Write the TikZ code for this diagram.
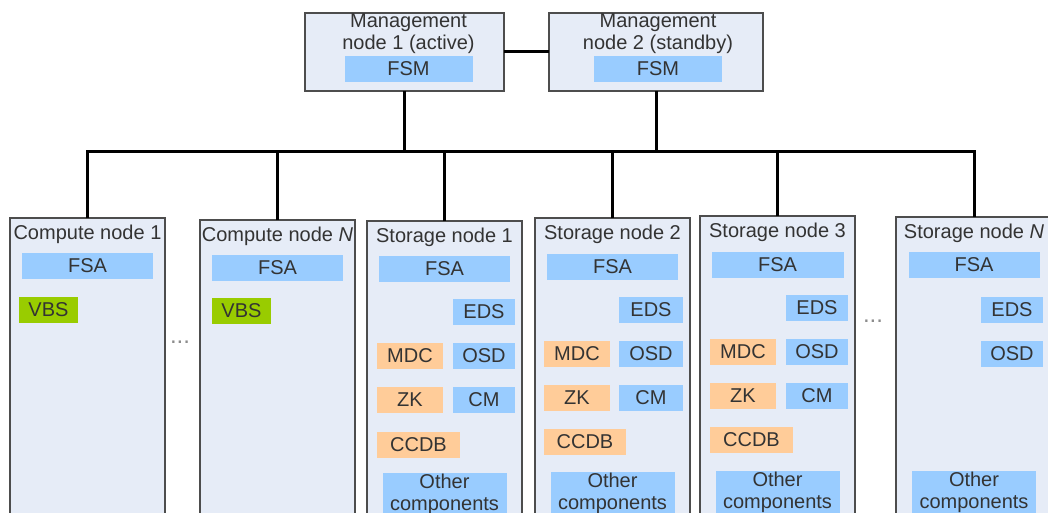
\documentclass[tikz,border=0pt]{standalone}
\usepackage{fontspec}
\setsansfont{Liberation Sans}
\usepackage{tikz}
\usetikzlibrary{positioning}
\usepackage{xcolor}
\definecolor{boxfill}{HTML}{E6ECF7}
\definecolor{boxline}{HTML}{4D4D4D}
\definecolor{fsblue}{HTML}{99CCFF}
\definecolor{fsorange}{HTML}{FFCC99}
\definecolor{fsgreen}{HTML}{99CC00}
\definecolor{ink}{HTML}{333333}
\tikzset{
  base/.style={font=\sffamily\fontsize{20}{22}\selectfont,text=ink,align=center,inner sep=0pt,outer sep=0pt},
  machine/.style={draw=boxline,line width=1.5pt,fill=boxfill,minimum width=155pt,minimum height=320pt,anchor=north west,inner sep=0pt,outer sep=0pt},
  manager/.style={machine,minimum height=78pt},
  heading/.style={base},
  comp/.style={base,minimum height=26pt},
  process/.style={comp,fill=fsblue},
  control/.style={comp,fill=fsorange},
  client/.style={comp,fill=fsgreen},
  link/.style={draw=black,line width=3pt},
  gap/.style={font=\sffamily\fontsize{24}{24}\selectfont,text=black!45,inner sep=0pt}
}
\begin{document}
\begin{tikzpicture}[x=1pt,y=-1pt]
\useasboundingbox (0,0) rectangle (1048,513);
\clip (0,0) rectangle (1048,513);

\node[manager,minimum width=199pt] (mgmt1) at (305,13) {};
\node[manager,minimum width=214pt] (mgmt2) at (549,13) {};
\node[heading] (mgmt1title) at ([xshift=4pt,yshift=-20.5pt]mgmt1.north) {Management\\node 1 (active)};
\node[heading] (mgmt2title) at ([xshift=2pt,yshift=-20.5pt]mgmt2.north) {Management\\node 2 (standby)};
\node[process,minimum width=128pt,below=43pt of mgmt1.north,xshift=4pt] (fsm1) {FSM};
\node[process,minimum width=128pt,below=43pt of mgmt2.north,xshift=2pt] (fsm2) {FSM};

\node[machine] (cnode1) at (10,218) {};
\node[machine] (cnodeN) at (200,220) {};
\node[machine] (snode1) at (367,221) {};
\node[machine] (snode2) at (535,218) {};
\node[machine] (snode3) at (700,216) {};
\node[machine,minimum width=156pt] (snodeN) at (896,217) {};

\node[heading] (c1title) at ([yshift=-16.5pt]cnode1.north) {Compute node 1};
\node[heading] (cNtitle) at ([yshift=-16.5pt]cnodeN.north) {Compute node \textit{N}};
\node[heading] (s1title) at ([yshift=-16.5pt]snode1.north) {Storage node 1};
\node[heading] (s2title) at ([yshift=-16.5pt]snode2.north) {Storage node 2};
\node[heading] (s3title) at ([yshift=-16.5pt]snode3.north) {Storage node 3};
\node[heading] (sNtitle) at ([yshift=-16.5pt]snodeN.north) {Storage node \textit{N}};

% compute nodes
\node[process,minimum width=131pt,below=35pt of cnode1.north] (c1fsa) {FSA};
\node[client,minimum width=59pt,below right=79pt and 9pt of cnode1.north west] (c1vbs) {VBS};
\node[process,minimum width=131pt,below=35pt of cnodeN.north] (cNfsa) {FSA};
\node[client,minimum width=59pt,below right=78pt and 12pt of cnodeN.north west] (cNvbs) {VBS};

% storage node 1
\node[process,minimum width=131pt,below=35pt of snode1.north] (s1fsa) {FSA};
\node[process,minimum width=62pt,below right=78pt and 86pt of snode1.north west] (s1eds) {EDS};
\node[process,minimum width=62pt,below=18pt of s1eds] (s1osd) {OSD};
\node[process,minimum width=62pt,below=18pt of s1osd] (s1cm) {CM};
\node[control,minimum width=66pt,left=10pt of s1osd] (s1mdc) {MDC};
\node[control,minimum width=66pt,left=10pt of s1cm] (s1zk) {ZK};
\node[control,minimum width=83pt,below right=19pt and 0pt of s1zk.south west] (s1ccdb) {CCDB};
\node[process,minimum width=124pt,minimum height=42pt,below=252pt of snode1.north] (s1other) {Other\\components};

% storage node 2
\node[process,minimum width=131pt,below=36pt of snode2.north] (s2fsa) {FSA};
\node[process,minimum width=64pt,below right=79pt and 84pt of snode2.north west] (s2eds) {EDS};
\node[process,minimum width=64pt,below=18pt of s2eds] (s2osd) {OSD};
\node[process,minimum width=64pt,below=18pt of s2osd] (s2cm) {CM};
\node[control,minimum width=66pt,left=9pt of s2osd] (s2mdc) {MDC};
\node[control,minimum width=66pt,left=9pt of s2cm] (s2zk) {ZK};
\node[control,minimum width=82pt,below right=18pt and 0pt of s2zk.south west] (s2ccdb) {CCDB};
\node[process,minimum width=124pt,minimum height=42pt,below=254pt of snode2.north] (s2other) {Other\\components};

% storage node 3
\node[process,minimum width=132pt,below=36pt of snode3.north] (s3fsa) {FSA};
\node[process,minimum width=62pt,below right=79pt and 86pt of snode3.north west] (s3eds) {EDS};
\node[process,minimum width=62pt,below=18pt of s3eds] (s3osd) {OSD};
\node[process,minimum width=62pt,below=18pt of s3osd] (s3cm) {CM};
\node[control,minimum width=66pt,left=10pt of s3osd] (s3mdc) {MDC};
\node[control,minimum width=66pt,left=10pt of s3cm] (s3zk) {ZK};
\node[control,minimum width=83pt,below right=18pt and 0pt of s3zk.south west] (s3ccdb) {CCDB};
\node[process,minimum width=124pt,minimum height=42pt,below=255pt of snode3.north] (s3other) {Other\\components};

% storage node N
\node[process,minimum width=131pt,below=35pt of snodeN.north] (sNfsa) {FSA};
\node[process,minimum width=62pt,below right=80pt and 85pt of snodeN.north west] (sNeds) {EDS};
\node[process,minimum width=62pt,below=18pt of sNeds] (sNosd) {OSD};
\node[process,minimum width=124pt,minimum height=42pt,below=254pt of snodeN.north] (sNother) {Other\\components};

\node[gap] (dots1) at (180,342) {...};
\node[gap] (dots2) at (873,321) {...};

\coordinate (bus) at (0,152);
\draw[link] (mgmt1.east) -- (mgmt2.west);
\draw[link] (mgmt1.south) -- (mgmt1.south |- bus);
\draw[link] (mgmt2.south) -- (mgmt2.south |- bus);
\draw[link] (cnode1.north) |- (bus -| snodeN.north) -- (snodeN.north);
\draw[link] (cnodeN.north) -- (cnodeN.north |- bus);
\draw[link] (snode1.north) -- (snode1.north |- bus);
\draw[link] (snode2.north) -- (snode2.north |- bus);
\draw[link] (snode3.north) -- (snode3.north |- bus);
\end{tikzpicture}
\end{document}
